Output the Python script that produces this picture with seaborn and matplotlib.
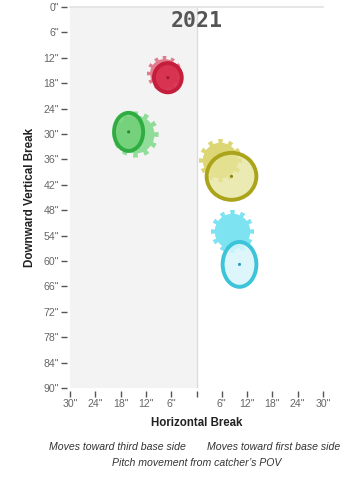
import numpy as np
import pandas as pd
import matplotlib
matplotlib.use("Agg")
import matplotlib.pyplot as plt
from matplotlib.path import Path
from matplotlib.patches import Ellipse
import seaborn as sns

# ---- data (inches) ----
pitches = ["Fastball", "Slider", "Changeup", "Curveball"]
player_h = [-6.8, -16.1, 8.3, 10.2]      # player horizontal break
player_v = [16.7, 29.5, 40.0, 60.8]      # player downward vertical break
player_w = [6.6, 6.9, 11.8, 8.0]         # spread width
player_ht = [6.9, 9.0, 11.1, 10.6]       # spread height
avg_h = [-7.6, -14.6, 5.5, 8.4]          # league average horizontal break
avg_v = [15.6, 30.1, 36.2, 53.0]         # league average vertical break
avg_d = [35, 46, 43, 43]                 # avg marker diameter (px)

fill_colors = ["#d8304e", "#72d078", "#e6e49a", "#d6f5fb"]
fill_alpha = [0.95, 0.85, 0.75, 0.85]
edge_colors = ["#c41e3c", "#2fad40", "#aba41a", "#3cc4d8"]
gear_colors = ["#e0667c", "#7fd88a", "#d6d05c", "#66dfee"]
dot_colors = ["#9a1a30", "#238a30", "#8a8415", "#2aa0b0"]

xticks = [-30, -24, -18, -12, -6, 0, 6, 12, 18, 24, 30]
xticklabels = ['30"', '24"', '18"', '12"', '6"', '', '6"', '12"', '18"', '24"', '30"']
yticks = list(range(0, 91, 6))
yticklabels = [f'{t}"' for t in yticks]

df_player = pd.DataFrame({"pitch": pitches, "h": player_h, "v": player_v,
                          "w": player_w, "ht": player_ht})
df_avg = pd.DataFrame({"pitch": pitches, "h": avg_h, "v": avg_v, "d": avg_d})


def gear_path(n=12, r_in=1.0, r_out=1.22, half=0.11):
    verts = []
    for i in range(n):
        a = 2 * np.pi * i / n
        a_prev_end = 2 * np.pi * (i - 1) / n + half
        arc = np.linspace(a_prev_end, a - half, 5)
        for t in arc:
            verts.append((r_in * np.cos(t), r_in * np.sin(t)))
        verts.append((r_out * np.cos(a - half), r_out * np.sin(a - half)))
        verts.append((r_out * np.cos(a + half), r_out * np.sin(a + half)))
        verts.append((r_in * np.cos(a + half), r_in * np.sin(a + half)))
    verts.append(verts[0])
    codes = [Path.MOVETO] + [Path.LINETO] * (len(verts) - 2) + [Path.CLOSEPOLY]
    return Path(verts, codes)


GEAR = gear_path()

sns.set_theme(style="white")
plt.rcParams["font.family"] = ["Liberation Sans", "DejaVu Sans"]

fig = plt.figure(figsize=(3.56, 4.8), dpi=100)
ax = fig.add_axes([70 / 356, 1 - 388 / 480, 253 / 356, 381 / 480])

ax.set_xlim(-30, 30)
ax.set_ylim(90, 0)
ax.axvspan(-30, 0, color="#f3f3f3", zorder=0, lw=0)
ax.axvline(0, color="#dcdcdc", lw=1, zorder=0.5)

# league-average gears
for i, row in df_avg.iterrows():
    s = (row["d"] * 72 / 100) ** 2
    sns.scatterplot(x=[row["h"]], y=[row["v"]], marker=GEAR, s=s,
                    color=gear_colors[i], alpha=0.85, linewidth=0, ax=ax,
                    zorder=2, legend=False)

# player ellipses
for i, row in df_player.iterrows():
    fc = matplotlib.colors.to_rgba(fill_colors[i], fill_alpha[i])
    e = Ellipse((row["h"], row["v"]), row["w"], row["ht"], facecolor=fc,
                edgecolor=edge_colors[i], lw=2.8, zorder=3)
    ax.add_patch(e)

sns.scatterplot(data=df_player, x="h", y="v", hue="pitch", palette=dot_colors,
                s=5, linewidth=0, ax=ax, zorder=4, legend=False)

for sp in ["right", "bottom", "left"]:
    ax.spines[sp].set_visible(False)
ax.spines["top"].set_color("#e2e2e2")
ax.spines["top"].set_linewidth(1.2)
ax.spines["left"].set_position(("outward", 2))
ax.spines["bottom"].set_position(("outward", 2))

ax.set_xticks(xticks)
ax.set_xticklabels(xticklabels)
ax.set_yticks(yticks)
ax.set_yticklabels(yticklabels)
ax.tick_params(axis="both", which="both", direction="out", length=4, width=1,
               color="#555555", labelcolor="#666666", labelsize=7.6, pad=2,
               left=True, bottom=True)

ax.set_xlabel("Horizontal Break", fontsize=8.3, fontweight="bold",
              color="#222222", labelpad=6)
ax.set_ylabel("Downward Vertical Break", fontsize=8.4, fontweight="bold",
              color="#222222", labelpad=5)

ax.text(0, 3.2, "2021", ha="center", va="center", fontsize=15.5,
        fontweight="bold", family="DejaVu Sans Mono", color="#555555")

fig.text(117 / 356, 1 - 447 / 480, "Moves toward third base side",
         ha="center", va="center", fontsize=7.6, style="italic", color="#333333")
fig.text(274 / 356, 1 - 447 / 480, "Moves toward first base side",
         ha="center", va="center", fontsize=7.6, style="italic", color="#333333")
fig.text(197 / 356, 1 - 463 / 480, "Pitch movement from catcher\u2019s POV",
         ha="center", va="center", fontsize=7.6, style="italic", color="#333333")

fig.savefig("out.png", dpi=100)
